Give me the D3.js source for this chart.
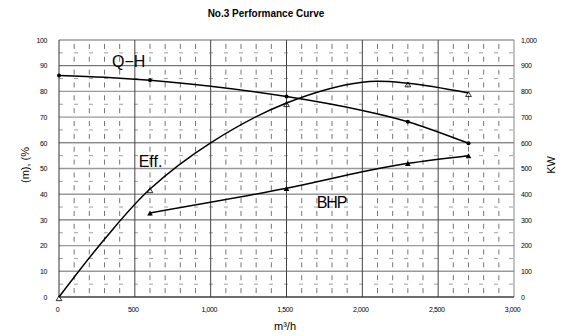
<!DOCTYPE html>
<html><head><meta charset="utf-8">
<script src="https://cdn.jsdelivr.net/npm/d3@7/dist/d3.min.js"></script>
<style>body{margin:0;background:#fff}svg{display:block}text{font-family:"Liberation Sans",Arial,sans-serif}</style>
</head><body><svg id="c" width="572" height="336"></svg>
<script>
const title = "No.3 Performance Curve";
const flowTicks = [0, 500, 1000, 1500, 2000, 2500, 3000];
const leftTicks = [0, 10, 20, 30, 40, 50, 60, 70, 80, 90, 100];
const rightTicks = [0, 100, 200, 300, 400, 500, 600, 700, 800, 900, 1000];
const qhFlow = [0, 300, 600, 1000, 1500, 2000, 2300, 2700];
const qhHead = [86.2, 85.5, 84.3, 82.0, 78.0, 72.6, 68.2, 59.8];
const qhMarks = [0, 600, 1500, 2300, 2700];
const effFlow = [0, 300, 600, 1000, 1500, 2000, 2300, 2700];
const effVal = [0, 22.5, 42, 60, 75.5, 83.6, 83.2, 79.4];
const effMarks = [0, 600, 1500, 2300, 2700];
const bhpFlow = [600, 1500, 2000, 2300, 2700];
const bhpKw = [327, 423, 487, 520, 550];
const labels = [{t:"Q\u2212H", q:350, v:89.5}, {t:"Eff.", q:525, v:50.5}, {t:"BHP", q:1700, v:34.5}];

const svg = d3.select("#c");
const x = d3.scaleLinear().domain([0, 3000]).range([59, 514]);
const yL = d3.scaleLinear().domain([0, 100]).range([297, 40]);
const yR = d3.scaleLinear().domain([0, 1000]).range([297, 40]);
const fmt = d3.format(",");

svg.append("text").attr("x", 266).attr("y", 17).attr("text-anchor", "middle")
  .attr("font-size", 10).attr("font-weight", "bold").text(title);

const g = svg.append("g");
const minorQ = d3.range(100, 3000, 100).filter(q => q % 500 !== 0);
const quarter = d3.range(2.5, 100, 5);
minorQ.forEach(q => quarter.forEach(v => {
  g.append("line").attr("x1", x(q)).attr("x2", x(q)).attr("y1", yL(v) - 2.5).attr("y2", yL(v) + 2.5)
   .attr("stroke", "#666").attr("stroke-width", 0.9);
}));
d3.range(5, 100, 10).forEach(v => {
  g.append("line").attr("x1", x(0)).attr("x2", x(3000)).attr("y1", yL(v)).attr("y2", yL(v))
   .attr("stroke", "#888").attr("stroke-width", 0.8).attr("stroke-dasharray", "4,11");
});
leftTicks.forEach((v, i) => {
  g.append("line").attr("x1", x(0)).attr("x2", x(3000)).attr("y1", yL(v)).attr("y2", yL(v))
   .attr("stroke", i % 3 === 0 ? "#555" : "#999").attr("stroke-width", i % 3 === 0 ? 1 : 1.4);
});
flowTicks.forEach(q => {
  g.append("line").attr("x1", x(q)).attr("x2", x(q)).attr("y1", yL(0)).attr("y2", yL(100))
   .attr("stroke", q === 0 ? "#333" : (q === 3000 ? "#888" : "#444")).attr("stroke-width", 1);
});
g.append("line").attr("x1", x(0)).attr("x2", x(3000)).attr("y1", yL(0)).attr("y2", yL(0)).attr("stroke", "#333");

const axL = d3.axisLeft(yL).tickValues(leftTicks).tickSize(0).tickPadding(12).tickFormat(fmt);
svg.append("g").attr("transform", `translate(${x(0)},0)`).call(axL)
  .call(s => s.select(".domain").remove())
  .selectAll("text").attr("font-size", 7).attr("font-family", "Liberation Sans, Arial").attr("letter-spacing", -0.4);
const axR = d3.axisRight(yR).tickValues(rightTicks).tickSize(0).tickPadding(7).tickFormat(fmt);
svg.append("g").attr("transform", `translate(${x(3000)},0)`).call(axR)
  .call(s => s.select(".domain").remove())
  .selectAll("text").attr("font-size", 7).attr("font-family", "Liberation Sans, Arial").attr("letter-spacing", -0.4);
const axB = d3.axisBottom(x).tickValues(flowTicks).tickSize(0).tickPadding(10).tickFormat(fmt);
svg.append("g").attr("transform", `translate(-2,${yL(0)})`).call(axB)
  .call(s => s.select(".domain").remove())
  .selectAll("text").attr("font-size", 7).attr("font-family", "Liberation Sans, Arial").attr("letter-spacing", -0.4);

svg.append("text").attr("transform", "translate(29,165) rotate(-90)").attr("text-anchor", "middle")
  .attr("font-size", 11).text("(m), (%");
svg.append("text").attr("transform", "translate(555,165) rotate(-90)").attr("text-anchor", "middle")
  .attr("font-size", 11).text("KW");
svg.append("text").attr("x", 285).attr("y", 330).attr("text-anchor", "middle")
  .attr("font-size", 11).text("m\u00b3/h");

const line = (xs, ys, yS) => d3.line().curve(d3.curveCatmullRom.alpha(0.5))
  .x((d, i) => x(xs[i])).y((d, i) => yS(ys[i]))(xs);
svg.append("path").attr("d", line(qhFlow, qhHead, yL)).attr("fill", "none").attr("stroke", "#000").attr("stroke-width", 1.5);
svg.append("path").attr("d", line(effFlow, effVal, yL)).attr("fill", "none").attr("stroke", "#000").attr("stroke-width", 1.5);
svg.append("path").attr("d", line(bhpFlow, bhpKw, yR)).attr("fill", "none").attr("stroke", "#000").attr("stroke-width", 1.5);

qhMarks.forEach(q => {
  const i = qhFlow.indexOf(q);
  svg.append("circle").attr("cx", x(q)).attr("cy", yL(qhHead[i])).attr("r", 2).attr("fill", "#000");
});
const tri = d3.symbol().type(d3.symbolTriangle).size(14);
effMarks.forEach(q => {
  const i = effFlow.indexOf(q);
  svg.append("path").attr("d", tri()).attr("transform", `translate(${x(q)},${yL(effVal[i]) + 2})`)
    .attr("fill", "none").attr("stroke", "#000").attr("stroke-width", 0.8);
});
[600, 1500, 2300, 2700].forEach(q => {
  const i = bhpFlow.indexOf(q);
  svg.append("path").attr("d", tri()).attr("transform", `translate(${x(q)},${yR(bhpKw[i]) + 1})`)
    .attr("fill", "#000");
});

labels.forEach(l => {
  svg.append("text").attr("x", x(l.q)).attr("y", yL(l.v)).attr("font-size", 16)
    .attr("letter-spacing", l.t === "BHP" ? -1.2 : 0).text(l.t);
});
</script></body></html>
